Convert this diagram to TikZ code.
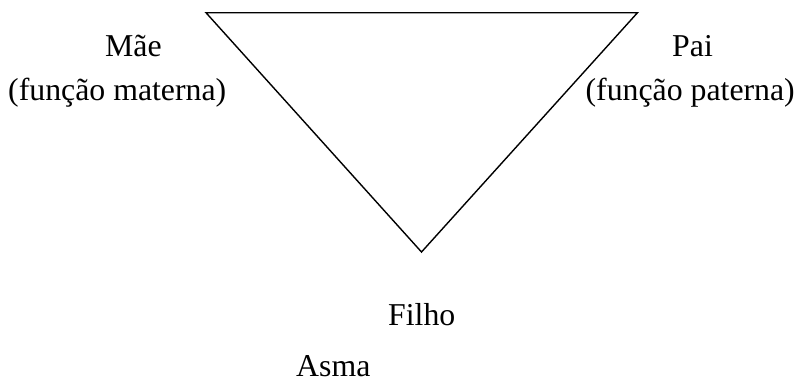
\documentclass[tikz,border=0pt]{standalone}
\usepackage{fontspec}
\setmainfont{Liberation Serif}
\begin{document}
\begin{tikzpicture}[x=1pt,y=-1pt,
  lbl/.style={anchor=base west,inner sep=0pt,font=\fontsize{31.8}{38}\selectfont},
  edge/.style={line width=1.4pt,line join=miter}]
\useasboundingbox (0,0) rectangle (797,383);
\coordinate (tl) at (206,12.7);
\coordinate (tr) at (637.5,12.7);
\coordinate (bt) at (421.5,252);
\draw[edge] (tl) -- (tr) -- (bt) -- cycle;
\node[lbl] (mae) at (105,56) {Mãe};
\node[lbl] (fm) at (8,100) {(função materna)};
\node[lbl] (pai) at (672,56) {Pai};
\node[lbl,anchor=base east] (fp) at (795,100) {(função paterna)};
\node[lbl] (filho) at (388,325) {Filho};
\node[lbl] (asma) at (296,376) {Asma};
\end{tikzpicture}
\end{document}
